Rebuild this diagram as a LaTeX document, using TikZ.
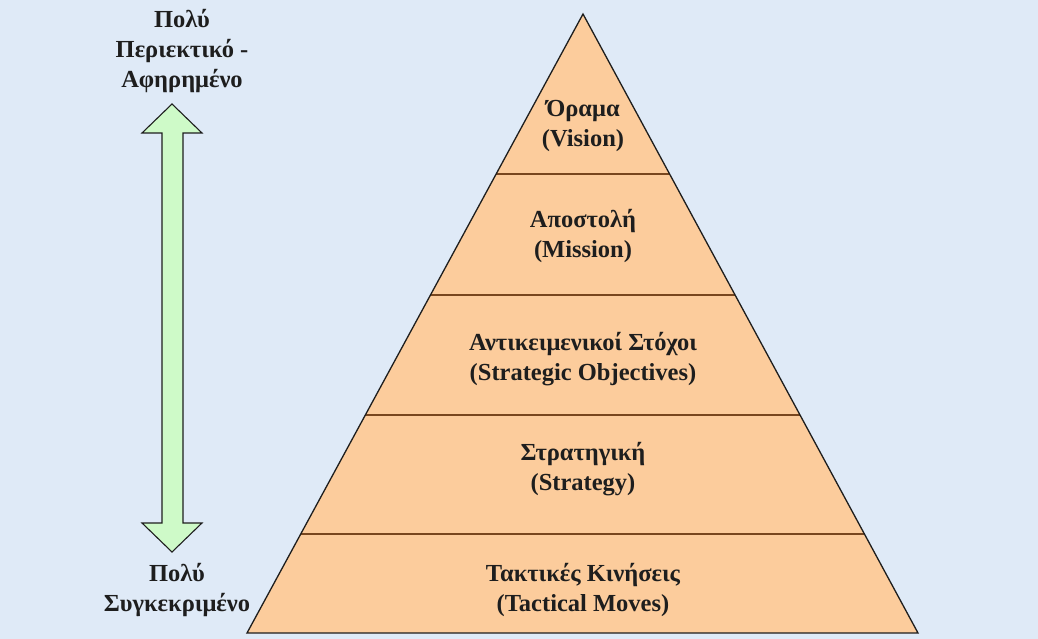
\documentclass[tikz,border=0pt]{standalone}
\usepackage{fontspec}
\setmainfont{Liberation Serif}
\usetikzlibrary{calc}
\definecolor{bgblue}{RGB}{223,234,247}
\definecolor{peach}{RGB}{252,204,156}
\definecolor{sepbrown}{RGB}{120,70,30}
\definecolor{arrowgreen}{RGB}{206,250,200}
\definecolor{inkdark}{RGB}{30,30,30}
\tikzset{
  lbl/.style={font=\bfseries\fontsize{24.5}{30}\selectfont, text=inkdark, align=center, inner sep=0pt},
  seps/.style={draw=sepbrown, line width=1.4pt},
  outl/.style={draw=inkdark, line width=1.3pt, line join=miter}
}
\begin{document}
\begin{tikzpicture}[x=1pt,y=-1pt]
\fill[bgblue] (0,0) rectangle (1038,639);
\useasboundingbox (0,0) rectangle (1038,639);
% pyramid
\coordinate (A) at (583,14);
\coordinate (BL) at (247,633);
\coordinate (BR) at (918,633);
\fill[peach] (A) -- (BL) -- (BR) -- cycle;
\foreach \t [count=\i] in {0.2585,0.4540,0.6478,0.8401}{
  \coordinate (L\i) at ($(A)!\t!(BL)$);
  \coordinate (R\i) at ($(A)!\t!(BR)$);
  \draw[seps] (L\i) -- (R\i);
}
\draw[outl] (A) -- (BL) -- (BR) -- cycle;
% labels
\node[lbl] (v) at (583,126) {Όραμα\\(Vision)};
\node[lbl] (m) at (583,236) {Αποστολή\\(Mission)};
\node[lbl] (o) at (583,359) {Αντικειμενικοί Στόχοι\\(Strategic Objectives)};
\node[lbl] (s) at (583,469) {Στρατηγική\\(Strategy)};
\node[lbl] (t) at (583,590) {Τακτικές Κινήσεις\\(Tactical Moves)};
% double arrow
\filldraw[fill=arrowgreen, draw=inkdark, line width=1.1pt, line join=miter]
  (172,104) -- (202,133) -- (183,133) -- (183,523) -- (202,523) -- (172,552)
  -- (142,523) -- (162,523) -- (162,133) -- (142,133) -- cycle;
\node[lbl] (top) at (182,51) {Πολύ\\Περιεκτικό -\\Αφηρημένο};
\node[lbl] (bot) at (177,590) {Πολύ\\Συγκεκριμένο};
\end{tikzpicture}
\end{document}
